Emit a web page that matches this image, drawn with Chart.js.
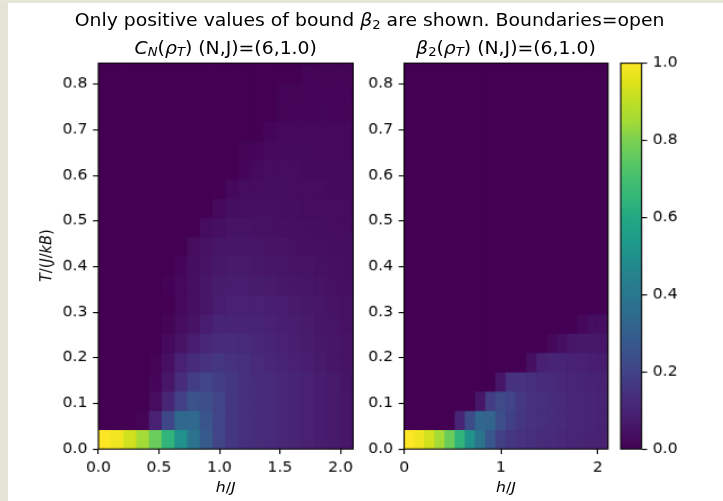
<!DOCTYPE html>
<html>
<head>
<meta charset="utf-8">
<script src="https://cdn.jsdelivr.net/npm/chart.js@4.4.0/dist/chart.umd.min.js"></script>
<style>
html, body { margin: 0; padding: 0; width: 723px; height: 501px; overflow: hidden; background: #fff; }
#edge-left { position: absolute; left: 0; top: 0; width: 8px; height: 501px; background: #e6e5d5; }
#edge-top { position: absolute; left: 0; top: 0; width: 723px; height: 3px; background: #e6e7d7; }
#fig { position: absolute; left: 8px; top: 3px; width: 640px; height: 480px;
       transform-origin: 0 0; transform: scale(1.13, 1.044);
       font-family: "DejaVu Sans"; color: #000; }
#fig canvas { position: absolute; left: 0; top: 0; }
.t { position: absolute; white-space: nowrap; text-align: center; line-height: normal; }
.sub { font-size: 70%; position: relative; top: 0.22em; }
</style>
</head>
<body>
<div id="edge-left"></div>
<div id="edge-top"></div>
<div id="fig">
  <canvas id="cn-chart" width="640" height="480"></canvas>
  <canvas id="b2-chart" width="640" height="480"></canvas>
  <canvas id="cbar-chart" width="640" height="480"></canvas>
  <div class="t" style="left:0;width:640px;top:7px;font-size:16.67px">Only positive values of bound <i>β</i><span class="sub">2</span> are shown. Boundaries=open</div>
  <div class="t" style="left:-7.3px;width:400px;top:33.8px;font-size:16.67px"><i>C</i><span class="sub"><i>N</i></span>(<i>ρ</i><span class="sub"><i>T</i></span>) (N,J)=(6,1.0)</div>
  <div class="t" style="left:240.7px;width:400px;top:33.8px;font-size:16.67px"><i>β</i><span class="sub">2</span>(<i>ρ</i><span class="sub"><i>T</i></span>) (N,J)=(6,1.0)</div>
  <div class="t" style="left:-7.3px;width:400px;top:455px;font-size:13.89px"><i>h</i>/<i>J</i></div>
  <div class="t" style="left:240.7px;width:400px;top:455px;font-size:13.89px"><i>h</i>/<i>J</i></div>
  <div class="t" style="left:33px;top:242.4px;font-size:13.89px;transform:translate(-50%,-50%) rotate(-90deg)"><i>T</i>/(<i>J</i>/<i>kB</i>)</div>
</div>
<script>
// ============================================================
// Heatmaps: C_N(rho_T) and beta_2(rho_T), N=6, J=1.0
// ============================================================

// cell edges along h/J and T/(J/kB)
var hEdges = [0.0000, 0.1053, 0.2105, 0.3158, 0.4211, 0.5263, 0.6316, 0.7368, 0.8421, 0.9474, 1.0526,
              1.1579, 1.2632, 1.3684, 1.4737, 1.5789, 1.6842, 1.7895, 1.8947, 2.0000, 2.1053];
var tEdges = [0.0000, 0.0423, 0.0846, 0.1269, 0.1692, 0.2115, 0.2538, 0.2961, 0.3384, 0.3807, 0.4230,
              0.4653, 0.5076, 0.5499, 0.5922, 0.6345, 0.6768, 0.7191, 0.7614, 0.8037, 0.8460];

var yTicks = [0.0, 0.1, 0.2, 0.3, 0.4, 0.5, 0.6, 0.7, 0.8];
var xTicksLeft = [0.0, 0.5, 1.0, 1.5, 2.0];
var xTicksRight = [0, 1, 2];
var cbarTicks = [0.0, 0.2, 0.4, 0.6, 0.8, 1.0];

// C_N(rho_T), rows from T=0 upwards, columns from h=0
var cnRows = [
  [1.00,0.98,0.93,0.85,0.77,0.64,0.50,0.38,0.28,0.20,0.16,0.14,0.13,0.12,0.11,0.10,0.09,0.08,0.07,0.06],
  [0,0,0,0.01,0.09,0.21,0.34,0.34,0.26,0.20,0.16,0.14,0.13,0.12,0.11,0.10,0.09,0.08,0.07,0.06],
  [0,0,0,0,0.03,0.10,0.19,0.25,0.24,0.20,0.16,0.14,0.13,0.12,0.11,0.10,0.09,0.08,0.07,0.06],
  [0,0,0,0,0.015,0.06,0.13,0.18,0.20,0.18,0.16,0.14,0.13,0.12,0.11,0.10,0.09,0.08,0.07,0.055],
  [0,0,0,0,0.01,0.04,0.09,0.13,0.15,0.16,0.15,0.14,0.12,0.11,0.10,0.09,0.08,0.07,0.06,0.05],
  [0,0,0,0,0,0.025,0.05,0.08,0.11,0.12,0.13,0.12,0.11,0.10,0.09,0.085,0.075,0.065,0.06,0.05],
  [0,0,0,0,0,0.01,0.03,0.05,0.08,0.10,0.10,0.10,0.10,0.09,0.085,0.08,0.07,0.06,0.055,0.045],
  [0,0,0,0,0,0,0.02,0.04,0.06,0.08,0.09,0.09,0.09,0.085,0.08,0.07,0.065,0.06,0.05,0.045],
  [0,0,0,0,0,0.005,0.02,0.04,0.06,0.075,0.08,0.08,0.075,0.07,0.065,0.06,0.055,0.05,0.045,0.04],
  [0,0,0,0,0,0,0.015,0.035,0.05,0.065,0.07,0.07,0.065,0.06,0.055,0.05,0.05,0.045,0.04,0.035],
  [0,0,0,0,0,0,0,0.03,0.045,0.055,0.06,0.06,0.055,0.05,0.05,0.045,0.04,0.04,0.035,0.035],
  [0,0,0,0,0,0,0,0,0.03,0.04,0.05,0.05,0.045,0.045,0.04,0.04,0.035,0.035,0.03,0.03],
  [0,0,0,0,0,0,0,0,0,0.02,0.035,0.04,0.04,0.04,0.035,0.035,0.03,0.03,0.03,0.03],
  [0,0,0,0,0,0,0,0,0,0,0.02,0.03,0.03,0.035,0.035,0.03,0.03,0.03,0.025,0.025],
  [0,0,0,0,0,0,0,0,0,0,0,0.015,0.025,0.03,0.03,0.03,0.025,0.025,0.025,0.025],
  [0,0,0,0,0,0,0,0,0,0,0,0.01,0.015,0.02,0.025,0.025,0.025,0.02,0.02,0.02],
  [0,0,0,0,0,0,0,0,0,0,0,0,0,0.015,0.02,0.02,0.02,0.02,0.02,0.02],
  [0,0,0,0,0,0,0,0,0,0,0,0,0,0,0.01,0.015,0.015,0.015,0.015,0.015],
  [0,0,0,0,0,0,0,0,0,0,0,0,0,0,0.008,0.01,0.012,0.012,0.012,0.012],
  [0,0,0,0,0,0,0,0,0,0,0,0,0,0,0,0,0.008,0.01,0.01,0.01]
];

// beta_2(rho_T), positive values only
var b2Rows = [
  [1.00,0.98,0.93,0.85,0.77,0.64,0.50,0.38,0.27,0.19,0.16,0.15,0.14,0.13,0.12,0.11,0.105,0.10,0.095,0.09],
  [0,0,0,0,0,0.10,0.23,0.33,0.32,0.24,0.19,0.16,0.15,0.14,0.13,0.12,0.11,0.105,0.10,0.095],
  [0,0,0,0,0,0,0,0.06,0.18,0.22,0.20,0.17,0.15,0.14,0.13,0.12,0.11,0.105,0.10,0.095],
  [0,0,0,0,0,0,0,0,0,0.06,0.15,0.15,0.14,0.13,0.12,0.11,0.105,0.10,0.095,0.09],
  [0,0,0,0,0,0,0,0,0,0,0,0,0.04,0.09,0.10,0.10,0.095,0.09,0.085,0.08],
  [0,0,0,0,0,0,0,0,0,0,0,0,0,0,0.02,0.04,0.06,0.065,0.065,0.06],
  [0,0,0,0,0,0,0,0,0,0,0,0,0,0,0,0,0,0.02,0.035,0.04],
  [0,0,0,0,0,0,0,0,0,0,0,0,0,0,0,0,0,0,0,0],
  [0,0,0,0,0,0,0,0,0,0,0,0,0,0,0,0,0,0,0,0],
  [0,0,0,0,0,0,0,0,0,0,0,0,0,0,0,0,0,0,0,0],
  [0,0,0,0,0,0,0,0,0,0,0,0,0,0,0,0,0,0,0,0],
  [0,0,0,0,0,0,0,0,0,0,0,0,0,0,0,0,0,0,0,0],
  [0,0,0,0,0,0,0,0,0,0,0,0,0,0,0,0,0,0,0,0],
  [0,0,0,0,0,0,0,0,0,0,0,0,0,0,0,0,0,0,0,0],
  [0,0,0,0,0,0,0,0,0,0,0,0,0,0,0,0,0,0,0,0],
  [0,0,0,0,0,0,0,0,0,0,0,0,0,0,0,0,0,0,0,0],
  [0,0,0,0,0,0,0,0,0,0,0,0,0,0,0,0,0,0,0,0],
  [0,0,0,0,0,0,0,0,0,0,0,0,0,0,0,0,0,0,0,0],
  [0,0,0,0,0,0,0,0,0,0,0,0,0,0,0,0,0,0,0,0],
  [0,0,0,0,0,0,0,0,0,0,0,0,0,0,0,0,0,0,0,0]
];

// viridis colormap stops, every 0.05
var VIRIDIS = ['#440154','#471365','#482475','#46327e','#414487','#3b528b','#355f8d',
               '#2f6c8e','#2a788e','#26828e','#21918c','#1f9e89','#22a884','#35b779',
               '#44bf70','#5ec962','#7ad151','#a5db36','#bddf26','#dfe318','#fde725'];

function hexRgb(h) {
  return [parseInt(h.slice(1, 3), 16), parseInt(h.slice(3, 5), 16), parseInt(h.slice(5, 7), 16)];
}

function viridis(v) {
  var p = Math.max(0, Math.min(1, v)) * 20;
  var i = Math.min(19, Math.floor(p));
  var f = p - i;
  var a = hexRgb(VIRIDIS[i]), b = hexRgb(VIRIDIS[i + 1]);
  return 'rgb(' + Math.round(a[0] + (b[0] - a[0]) * f) + ',' +
                  Math.round(a[1] + (b[1] - a[1]) * f) + ',' +
                  Math.round(a[2] + (b[2] - a[2]) * f) + ')';
}

// ============================================================
// LAYOUT (figure pixels, 640x480 before scaling)
// ============================================================

var FIG_W = 640, FIG_H = 480;
var TICK_LEN = 4.86, TICK_PAD = 4.86, LINE_W = 1.11;
var FONT = { family: 'DejaVu Sans', size: 13.89 };

// axes frame
var framePlugin = {
  id: 'frame',
  afterDraw: function(chart) {
    var a = chart.chartArea, c = chart.ctx;
    c.save();
    c.strokeStyle = '#000';
    c.lineWidth = LINE_W;
    c.strokeRect(a.left, a.top, a.right - a.left, a.bottom - a.top);
    c.restore();
  }
};

function tickGrid() {
  return { drawOnChartArea: false, drawTicks: true, tickLength: TICK_LEN,
           tickColor: '#000', tickWidth: LINE_W, color: '#000', lineWidth: LINE_W };
}

function heatPanel(id, rows, box, xTicks, xDigits) {
  var pts = [], colors = [];
  rows.forEach(function(row, r) {
    row.forEach(function(v, c) {
      pts.push({ x: (hEdges[c] + hEdges[c + 1]) / 2, y: [tEdges[r], tEdges[r + 1]] });
      colors.push(viridis(v));
    });
  });
  return new Chart(document.getElementById(id), {
    type: 'bar',
    data: { datasets: [{ data: pts, backgroundColor: colors, borderWidth: 0,
                         barPercentage: 1, categoryPercentage: 1, inflateAmount: 0.4 }] },
    options: {
      responsive: false, animation: false, devicePixelRatio: 1,
      layout: { padding: { left: 0, top: box.top, right: FIG_W - box.right, bottom: 0 } },
      plugins: { legend: { display: false }, tooltip: { enabled: false } },
      scales: {
        x: {
          type: 'linear', min: hEdges[0], max: hEdges[hEdges.length - 1], offset: false,
          grid: Object.assign(tickGrid(), { offset: false }),
          border: { display: false },
          afterBuildTicks: function(s) { s.ticks = xTicks.map(function(v) { return { value: v }; }); },
          ticks: { font: FONT, color: '#000', padding: TICK_PAD, maxRotation: 0, autoSkip: false,
                   callback: function(v) { return Number(v).toFixed(xDigits); } },
          afterFit: function(s) { s.height = FIG_H - box.bottom; }
        },
        y: {
          type: 'linear', min: tEdges[0], max: tEdges[tEdges.length - 1],
          grid: tickGrid(),
          border: { display: false },
          afterBuildTicks: function(s) { s.ticks = yTicks.map(function(v) { return { value: v }; }); },
          ticks: { font: FONT, color: '#000', padding: TICK_PAD, autoSkip: false,
                   callback: function(v) { return Number(v).toFixed(1); } },
          afterFit: function(s) { s.width = box.left; }
        }
      }
    },
    plugins: [framePlugin]
  });
}

heatPanel('cn-chart', cnRows, { left: 80, top: 57.6, right: 305.45, bottom: 427.2 }, xTicksLeft, 1);
heatPanel('b2-chart', b2Rows, { left: 350.55, top: 57.6, right: 530.9, bottom: 427.2 }, xTicksRight, 0);

// ============================================================
// COLORBAR
// ============================================================

var cbarBox = { left: 542.2, top: 57.6, right: 560.7, bottom: 427.2 };

new Chart(document.getElementById('cbar-chart'), {
  type: 'bar',
  data: {
    labels: [''],
    datasets: [{
      data: [[0, 1]],
      borderWidth: 0, barPercentage: 1, categoryPercentage: 1,
      backgroundColor: function(ctx) {
        var a = ctx.chart.chartArea;
        if (!a) return VIRIDIS[10];
        var g = ctx.chart.ctx.createLinearGradient(0, a.bottom, 0, a.top);
        VIRIDIS.forEach(function(col, i) { g.addColorStop(i / 20, col); });
        return g;
      }
    }]
  },
  options: {
    responsive: false, animation: false, devicePixelRatio: 1,
    layout: { padding: { left: cbarBox.left, top: cbarBox.top, right: FIG_W - cbarBox.right - 60, bottom: FIG_H - cbarBox.bottom } },
    plugins: { legend: { display: false }, tooltip: { enabled: false } },
    scales: {
      x: { type: 'category', display: false, offset: true },
      y: {
        position: 'right', min: 0, max: 1,
        grid: tickGrid(),
        border: { display: false },
        afterBuildTicks: function(s) { s.ticks = cbarTicks.map(function(v) { return { value: v }; }); },
        ticks: { font: FONT, color: '#000', padding: TICK_PAD, autoSkip: false,
                 callback: function(v) { return Number(v).toFixed(1); } },
        afterFit: function(s) { s.width = 60; }
      }
    }
  },
  plugins: [framePlugin]
});
</script>
</body>
</html>
